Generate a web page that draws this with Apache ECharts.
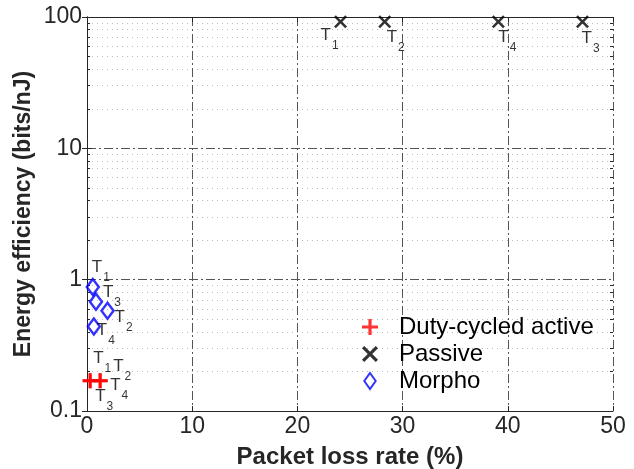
<!DOCTYPE html>
<html>
<head>
<meta charset="utf-8">
<title>Energy efficiency vs packet loss</title>
<script src="https://cdn.jsdelivr.net/npm/echarts@6/dist/echarts.min.js"></script>
<style>
  body { margin: 0; background: #fff; }
  #chart { width: 634px; height: 469px; }
</style>
</head>
<body>
<div id="chart"></div>
<script>
// ---- data ----
const seriesNames = ['Duty-cycled active', 'Passive', 'Morpho'];

const activeTags = ['T1', 'T2', 'T3', 'T4'];
const activeLoss = [0.3, 1.25, 0.3, 1.25];
const activeEff = [0.17, 0.17, 0.17, 0.17];

const passiveTags = ['T1', 'T2', 'T4', 'T3'];
const passiveLoss = [24.1, 28.3, 39.1, 47.1];
const passiveEff = [92, 92, 92, 92];

const morphoTags = ['T1', 'T3', 'T2', 'T4'];
const morphoLoss = [0.55, 0.85, 1.95, 0.65];
const morphoEff = [0.88, 0.68, 0.58, 0.44];

// minor ticks of the log axis (2..9 of each decade)
const minorTicks = [0.2, 0.3, 0.4, 0.5, 0.6, 0.7, 0.8, 0.9,
                    2, 3, 4, 5, 6, 7, 8, 9,
                    20, 30, 40, 50, 60, 70, 80, 90];

// where each "T" tag sits relative to its marker (px)
const activeTagOffset = [[8, -22], [18, -14], [10, 16], [15, 5]];
const passiveTagOffset = [[-15, 14], [7, 16], [5, 16], [4, 17]];
const morphoTagOffset = [[4, -19], [12, -9], [12, 7], [8, 4]];

const FONT = 'Liberation Sans, Arial, sans-serif';
const PLUS = 'path://M4,0 H6 V4 H10 V6 H6 V10 H4 V6 H0 V4 H4 Z';
const CROSS = 'path://M0,1.4 L1.4,0 L5,3.6 L8.6,0 L10,1.4 L6.4,5 L10,8.6 L8.6,10 L5,6.4 L1.4,10 L0,8.6 L3.6,5 Z';
const DIAMOND = 'path://M5,0 L10,7 L5,14 L0,7 Z';

function points(xs, ys, tags, offs) {
    return xs.map((x, i) => ({
        value: [x, ys[i]],
        name: tags[i],
        label: { offset: [offs[i][0] - 5, offs[i][1] - 9] }
    }));
}

const tagLabel = {
    show: true,
    position: 'inside',
    align: 'left',
    verticalAlign: 'top',
    formatter: p => '{t|T}{s|' + p.name.slice(1) + '}',
    rich: {
        t: { fontFamily: FONT, fontSize: 17, color: '#000', verticalAlign: 'top', lineHeight: 17 },
        s: { fontFamily: FONT, fontSize: 12, color: '#000', padding: [13, 0, 0, 1] }
    }
};

const axisColor = '#262626';
const majorLine = { color: '#555', width: 1, type: [9, 3, 2, 3] };
const minorLine = { color: '#bbb', width: 1, type: [1, 4] };

const chart = echarts.init(document.getElementById('chart'));

function minorAxis(pos, grid) {
    return {
        type: 'log',
        logBase: 10,
        position: pos,
        min: 0.1, max: 100,
        axisLine: { show: false },
        axisTick: { show: true, inside: true, length: 3, customValues: minorTicks, lineStyle: { color: axisColor } },
        axisLabel: { show: false },
        splitLine: { show: grid, lineStyle: minorLine }
    };
}

chart.setOption({
    animation: false,
    backgroundColor: '#fff',
    grid: { left: 87, right: 21, top: 17, bottom: 58, outerBoundsMode: 'none', containLabel: false },
    legend: {
        orient: 'vertical',
        left: 362,
        top: 315,
        itemWidth: 16,
        itemHeight: 16,
        itemGap: 3,
        padding: 0,
        textStyle: { fontFamily: FONT, fontSize: 24, color: '#000', padding: [0, 0, 0, 16] },
        data: seriesNames
    },
    xAxis: [{
        type: 'value',
        min: 0, max: 50, interval: 10,
        name: 'Packet loss rate (%)',
        nameLocation: 'middle',
        nameGap: 34,
        nameMoveOverlap: false,
        nameTextStyle: { fontFamily: FONT, fontSize: 24, fontWeight: 'bold', color: axisColor },
        axisLine: { show: true, lineStyle: { color: axisColor, width: 1 } },
        axisTick: { show: true, inside: true, length: 5, lineStyle: { color: axisColor } },
        axisLabel: { fontFamily: FONT, fontSize: 23, color: axisColor, margin: 4 },
        splitLine: { show: true, lineStyle: majorLine }
    }, {
        type: 'value',
        position: 'top',
        min: 0, max: 50, interval: 10,
        axisLine: { show: true, lineStyle: { color: axisColor, width: 1 } },
        axisTick: { show: true, inside: true, length: 5, lineStyle: { color: axisColor } },
        axisLabel: { show: false },
        splitLine: { show: false }
    }],
    yAxis: [{
        type: 'log',
        logBase: 10,
        min: 0.1, max: 100,
        name: 'Energy efficiency (bits/nJ)',
        nameLocation: 'middle',
        nameGap: 52,
        nameMoveOverlap: false,
        nameTextStyle: { fontFamily: FONT, fontSize: 23, fontWeight: 'bold', color: axisColor },
        axisLine: { show: true, lineStyle: { color: axisColor, width: 1 } },
        axisTick: { show: true, inside: true, length: 5, lineStyle: { color: axisColor } },
        axisLabel: { fontFamily: FONT, fontSize: 23, color: axisColor, margin: 5 },
        splitLine: { show: true, lineStyle: majorLine }
    }, {
        type: 'log',
        logBase: 10,
        position: 'right',
        min: 0.1, max: 100,
        axisLine: { show: true, lineStyle: { color: axisColor, width: 1 } },
        axisTick: { show: true, inside: true, length: 5, lineStyle: { color: axisColor } },
        axisLabel: { show: false },
        splitLine: { show: false }
    },
    minorAxis('left', true),
    minorAxis('right', false)
    ],
    series: [
        {
            name: seriesNames[0],
            type: 'scatter',
            symbol: PLUS,
            symbolSize: 15,
            symbolKeepAspect: true,
            itemStyle: { color: '#ff0000' },
            label: tagLabel,
            data: points(activeLoss, activeEff, activeTags, activeTagOffset),
            z: 5
        },
        {
            name: seriesNames[1],
            type: 'scatter',
            symbol: CROSS,
            symbolSize: 13,
            symbolKeepAspect: true,
            itemStyle: { color: '#000' },
            label: tagLabel,
            data: points(passiveLoss, passiveEff, passiveTags, passiveTagOffset),
            z: 5
        },
        {
            name: seriesNames[2],
            type: 'scatter',
            symbol: DIAMOND,
            symbolSize: [12, 16],
            symbolKeepAspect: false,
            itemStyle: { color: 'rgba(255,255,255,0)', borderColor: '#0000ff', borderWidth: 2.5 },
            label: tagLabel,
            data: points(morphoLoss, morphoEff, morphoTags, morphoTagOffset),
            z: 5
        }
    ]
});
</script>
</body>
</html>
